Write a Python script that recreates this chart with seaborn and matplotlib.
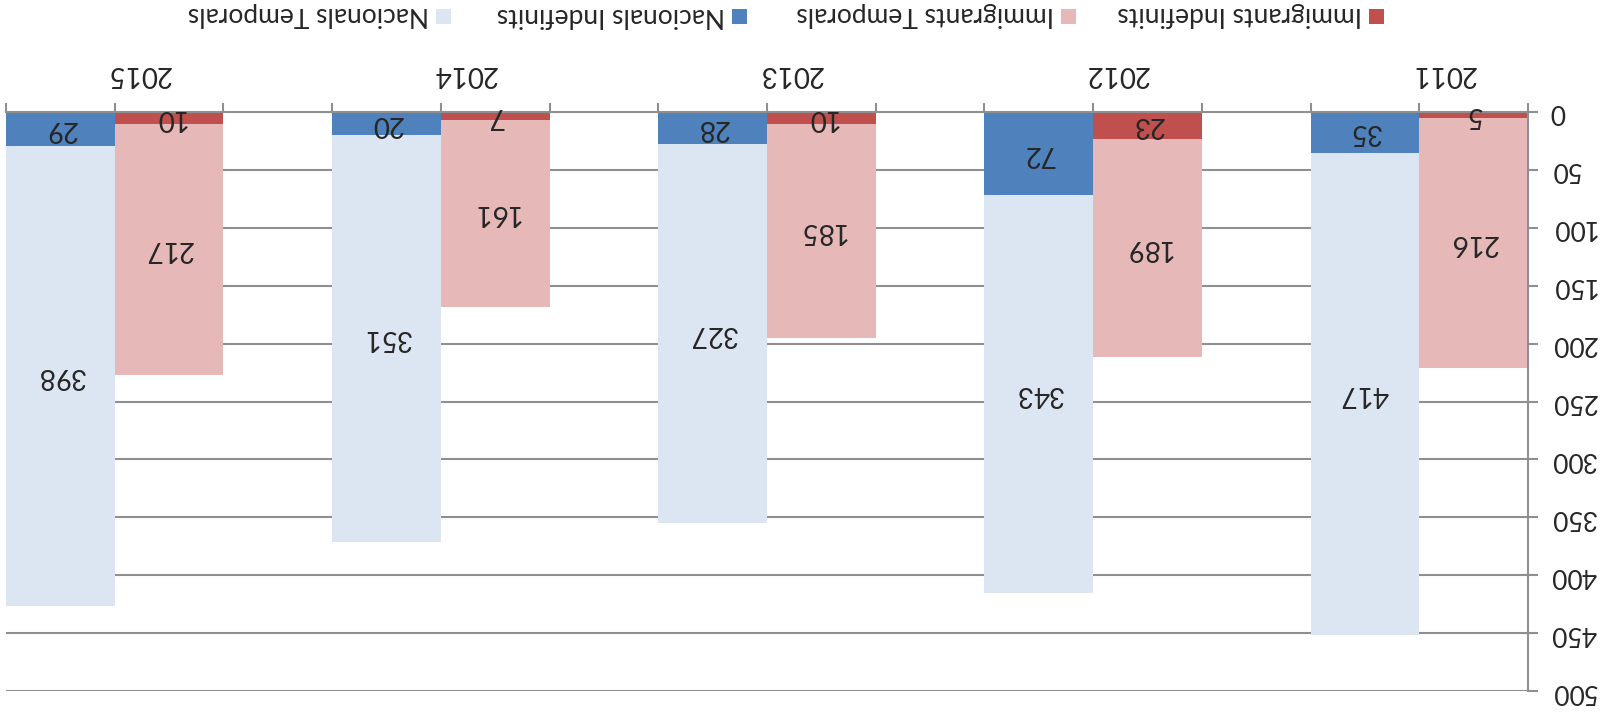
import matplotlib
matplotlib.use("Agg")
import matplotlib.pyplot as plt
import matplotlib.transforms as mtransforms
from matplotlib.patches import Rectangle
import seaborn as sns
import pandas as pd

# data
years = ["2011", "2012", "2013", "2014", "2015"]
imm_indef = [5, 23, 10, 7, 10]
imm_temp = [216, 189, 185, 161, 217]
nac_indef = [35, 72, 28, 20, 29]
nac_temp = [417, 343, 327, 351, 398]

series_names = ["Immigrants Indefinits", "Immigrants Temporals",
                "Nacionals Indefinits", "Nacionals Temporals"]
colors = ["#C0504D", "#E6B9B8", "#4F81BD", "#DCE6F2"]
yticks = [0, 50, 100, 150, 200, 250, 300, 350, 400, 450, 500]

# category slots: immigrant bar, national bar, empty gap
slots = []
for i, y in enumerate(years):
    slots += [y + " I", y + " N"]
    if i < len(years) - 1:
        slots.append("gap" + y)

imm = pd.DataFrame({"slot": [y + " I" for y in years],
                    "indef": imm_indef, "temp": imm_temp})
imm["total"] = imm["indef"] + imm["temp"]
nac = pd.DataFrame({"slot": [y + " N" for y in years],
                    "indef": nac_indef, "temp": nac_temp})
nac["total"] = nac["indef"] + nac["temp"]

sns.set_style("white")
plt.rcParams["font.family"] = ["Lato", "DejaVu Sans"]
FS = 20
GRID = "#8f8f8f"

W, H = 1608, 713
fig = plt.figure(figsize=(W / 100, H / 100), dpi=100)
ax = fig.add_axes([6 / W, 1 - 691 / H, (1528 - 6) / W, (691 - 112) / H])

kw = dict(order=slots, width=1.0, saturation=1, errorbar=None, ax=ax,
          linewidth=0)
sns.barplot(data=imm, x="slot", y="total", color=colors[1], **kw)
sns.barplot(data=imm, x="slot", y="indef", color=colors[0], **kw)
sns.barplot(data=nac, x="slot", y="total", color=colors[3], **kw)
sns.barplot(data=nac, x="slot", y="indef", color=colors[2], **kw)

# the whole chart is shown turned upside down
ax.set_xlim(len(slots) - 0.5, -0.5)
ax.set_ylim(500, 0)
ax.set_xlabel("")
ax.set_ylabel("")

ax.set_axisbelow(True)
ax.yaxis.grid(True, color=GRID, linewidth=1.5)
ax.set_yticks(yticks)
ax.yaxis.tick_right()
ax.tick_params(axis="y", direction="out", length=7.2, width=1.5, color=GRID,
               pad=9, labelsize=FS - 1)
for lab in ax.get_yticklabels():
    lab.set_rotation(180)
    lab.set_va("center")

ax.set_xticks([i - 0.5 for i in range(len(slots) + 1)])
ax.set_xticklabels([])
ax.xaxis.tick_top()
ax.tick_params(axis="x", direction="out", length=6.5, width=1.5, color=GRID)

for side in ["left", "bottom"]:
    ax.spines[side].set_visible(False)
for side in ["right", "top"]:
    ax.spines[side].set_color(GRID)
    ax.spines[side].set_linewidth(1.5)

# value labels
for df in [imm, nac]:
    for _, row in df.iterrows():
        x = slots.index(row["slot"])
        ax.text(x, row["indef"] / 2, str(row["indef"]), rotation=180,
                ha="center", va="center", fontsize=FS)
        ax.text(x, row["indef"] + row["temp"] / 2, str(row["temp"]),
                rotation=180, ha="center", va="center", fontsize=FS)

# year labels above each pair
trans = mtransforms.blended_transform_factory(ax.transData, fig.transFigure)
for y in years:
    x = slots.index(y + " I") + 0.5 - 0.22
    ax.text(x, 1 - 74 / H, y, rotation=180, ha="center", va="center",
            fontsize=FS, transform=trans)

# legend along the top, read right to left
sq_left = [1369, 1061, 732, 436]
for name, c, xl in zip(series_names, colors, sq_left):
    fig.patches.append(Rectangle((xl / W, 1 - 24 / H), 15 / W, 15 / H,
                                 facecolor=c, edgecolor="none",
                                 transform=fig.transFigure))
    fig.text((xl - 7) / W, 1 - 15 / H, name, rotation=180, ha="right",
             va="center", fontsize=FS - 1)

fig.savefig("out.png", dpi=100)
